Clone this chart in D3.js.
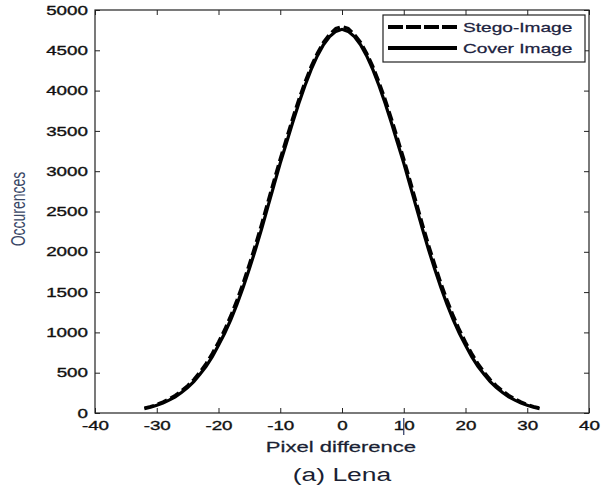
<!DOCTYPE html>
<html>
<head>
<meta charset="utf-8">
<script src="https://cdn.jsdelivr.net/npm/d3@7"></script>
<style>
  body { margin: 0; background: #fff; }
  text { font-family: "Liberation Sans", Arial, sans-serif; }
</style>
</head>
<body>
<div id="chart"></div>
<script>
var width = 612,
    height = 489;

// pixel difference values -32 .. 32
var pixelDiff = d3.range(-32, 33);

var coverImage = [55, 72, 95, 125, 160, 200, 255, 315, 390, 480, 580, 700, 840, 990, 1160, 1350,
  1560, 1790, 2030, 2290, 2560, 2830, 3100, 3350, 3600, 3840, 4060, 4260, 4430, 4570, 4670, 4735,
  4760,
  4735, 4670, 4570, 4430, 4260, 4060, 3840, 3600, 3350, 3100, 2830, 2560, 2290, 2030, 1790, 1560,
  1350, 1160, 990, 840, 700, 580, 480, 390, 315, 255, 200, 160, 125, 95, 72, 55];

var stegoImage = [62, 80, 105, 138, 175, 220, 275, 340, 415, 510, 615, 740, 880, 1035, 1210, 1405,
  1615, 1850, 2090, 2350, 2620, 2890, 3155, 3405, 3655, 3890, 4105, 4300, 4465, 4600, 4700, 4770,
  4795,
  4770, 4700, 4600, 4465, 4300, 4105, 3890, 3655, 3405, 3155, 2890, 2620, 2350, 2090, 1850, 1615,
  1405, 1210, 1035, 880, 740, 615, 510, 415, 340, 275, 220, 175, 138, 105, 80, 62];

var xTicks = [-40, -30, -20, -10, 0, 10, 20, 30, 40];
var yTicks = [0, 500, 1000, 1500, 2000, 2500, 3000, 3500, 4000, 4500, 5000];
var legendNames = ["Stego-Image", "Cover Image"];

var stretch = 1.47; // the figure is widened horizontally
var plotL = 95, plotR = 589, plotT = 10, plotB = 413;

var svg = d3.select('#chart').append('svg')
  .attr('width', width)
  .attr('height', height);

svg.append('rect').attr('width', width).attr('height', height).attr('fill', '#fff');

var x = d3.scaleLinear().domain([-40, 40]).range([plotL, plotR]);
var y = d3.scaleLinear().domain([0, 5000]).range([plotB, plotT]);
var plain = function(d) { return String(d); };

// axes, ticks pointing inwards
var gx = svg.append('g').attr('transform', 'translate(0,' + plotB + ')')
  .call(d3.axisBottom(x).tickValues(xTicks).tickFormat(plain).tickSize(-5).tickSizeOuter(0).tickPadding(8));
var gy = svg.append('g').attr('transform', 'translate(' + plotL + ',0)')
  .call(d3.axisLeft(y).tickValues(yTicks).tickFormat(plain).tickSize(-5).tickSizeOuter(0).tickPadding(7));
svg.append('g').attr('transform', 'translate(0,' + plotT + ')')
  .call(d3.axisTop(x).tickValues(xTicks).tickSize(-5).tickSizeOuter(0).tickFormat(''));
svg.append('g').attr('transform', 'translate(' + plotR + ',0)')
  .call(d3.axisRight(y).tickValues(yTicks).tickSize(-5).tickSizeOuter(0).tickFormat(''));

svg.selectAll('.domain').remove();
svg.selectAll('.tick line').attr('stroke', '#222').attr('stroke-width', 1);

gx.selectAll('text')
  .attr('font-size', 12.8)
  .attr('fill', '#111').attr('stroke', '#111').attr('stroke-width', 0.35)
  .attr('transform', 'scale(' + stretch + ',1)');
gy.selectAll('text')
  .attr('font-size', 12.8)
  .attr('fill', '#111').attr('stroke', '#111').attr('stroke-width', 0.35)
  .attr('x', -7 / stretch)
  .attr('transform', 'scale(' + stretch + ',1)');
svg.selectAll('.tick text').attr('font-family', '"Liberation Sans", Arial, sans-serif');

// frame
svg.append('rect')
  .attr('x', plotL).attr('y', plotT)
  .attr('width', plotR - plotL).attr('height', plotB - plotT)
  .attr('fill', 'none').attr('stroke', '#222').attr('stroke-width', 1.2);

var line = d3.line()
  .x(function(d, i) { return x(pixelDiff[i]); })
  .y(function(d) { return y(d); });

svg.append('path')
  .datum(coverImage)
  .attr('d', line)
  .attr('fill', 'none')
  .attr('stroke', '#000')
  .attr('stroke-width', 3.2);

svg.append('path')
  .datum(stegoImage)
  .attr('d', line)
  .attr('fill', 'none')
  .attr('stroke', '#000')
  .attr('stroke-width', 3.2)
  .attr('stroke-dasharray', '10,4');

// legend
var lg = svg.append('g');
lg.append('rect')
  .attr('x', 383).attr('y', 15).attr('width', 202).attr('height', 47)
  .attr('fill', '#fff').attr('stroke', '#222').attr('stroke-width', 1.2);
legendNames.forEach(function(name, i) {
  var ly = 27 + i * 21;
  lg.append('line')
    .attr('x1', 388).attr('x2', 457).attr('y1', ly).attr('y2', ly)
    .attr('stroke', '#000').attr('stroke-width', 4)
    .attr('stroke-dasharray', i == 0 ? '15,3' : null);
  lg.append('text')
    .attr('transform', 'translate(463,' + (ly + 4.5) + ') scale(' + stretch + ',1)')
    .attr('font-size', 13)
    .attr('fill', '#1c2340').attr('stroke', '#1c2340').attr('stroke-width', 0.25)
    .text(name);
});

// labels
svg.append('text')
  .attr('transform', 'translate(341,452) scale(' + stretch + ',1)')
  .attr('text-anchor', 'middle')
  .attr('font-size', 15)
  .attr('fill', '#1a1f33').attr('stroke', '#1a1f33').attr('stroke-width', 0.25)
  .text('Pixel difference');

svg.append('text')
  .attr('transform', 'translate(342,481) scale(' + stretch + ',1)')
  .attr('text-anchor', 'middle')
  .attr('font-size', 18)
  .attr('fill', '#1a1f33')
  .text('(a) Lena');

svg.append('text')
  .attr('transform', 'translate(25,209) scale(' + stretch + ',1) rotate(-90)')
  .attr('text-anchor', 'middle')
  .attr('font-size', 14)
  .attr('fill', '#3a4766')
  .text('Occurences');

// stray cursor mark on the 10 label
svg.append('line')
  .attr('x1', x(10)).attr('x2', x(10))
  .attr('y1', 418).attr('y2', 435)
  .attr('stroke', '#2a3560').attr('stroke-width', 1.2);
</script>
</body>
</html>
